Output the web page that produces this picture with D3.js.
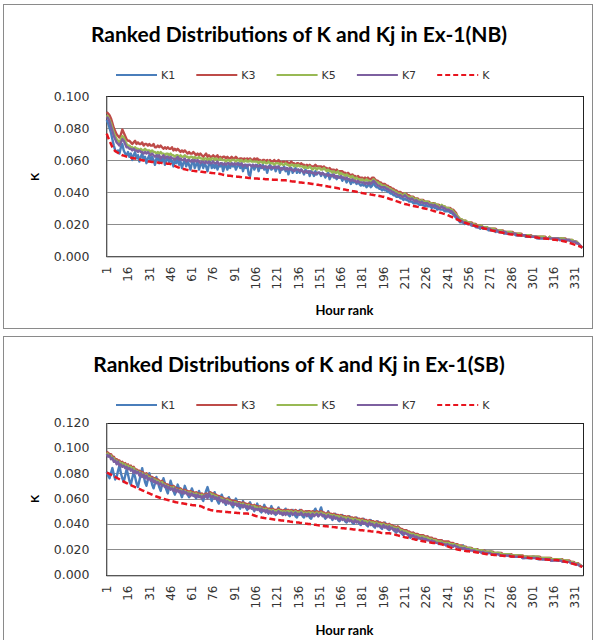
<!DOCTYPE html>
<html>
<head>
<meta charset="utf-8">
<script src="https://cdn.jsdelivr.net/npm/d3@7"></script>
<style>
  body { margin: 0; background: #fff; }
  svg { display: block; }
</style>
</head>
<body>
<svg id="chart" width="595" height="640"></svg>
<script>
// series values are in thousandths of K
var SERIES_NAMES = ['K1', 'K3', 'K5', 'K7', 'K']
var X_TICKS = [1, 16, 31, 46, 61, 76, 91, 106, 121, 136, 151, 166, 181, 196, 211, 226, 241, 256, 271, 286, 301, 316, 331]
var Y_TICKS_NB = [0, 0.02, 0.04, 0.06, 0.08, 0.1]
var Y_TICKS_SB = [0, 0.02, 0.04, 0.06, 0.08, 0.1, 0.12]

var NB_K1 = [
  85,83,80,77,73,69,66,65,66,64,68,70,66,64,63,
  65,62,64,60,63,65,61,63,59,62,64,60,62,58,61,
  63,59,62,60,57,61,63,58,61,59,62,57,60,62,58,
  61,59,56,60,58,61,57,59,55,58,60,56,59,57,54,
  58,60,55,57,59,54,57,58,55,58,56,53,57,59,55,
  57,55,58,54,57,56,58,53,56,57,54,57,55,58,56,
  57,54,56,58,55,57,53,56,55,57,51,50,55,57,54,
  56,57,53,56,55,57,54,56,52,55,57,54,55,56,53,
  55,56,52,55,54,56,53,55,51,54,55,52,54,55,52,
  54,52,54,53,51,54,52,53,50,53,52,50,53,51,52,
  52,50,52,51,49,51,52,48,50,51,49,50,48,50,49,
  49,47,49,48,46,48,47,45,47,46,47,45,46,45,44,
  45,44,45,43,44,45,43,44,46,44,43,43,42,42,41,
  42,41,41,40,40,39,39,38,38,37,37,37,36,36,35,
  36,35,35,34,34,34,33,33,33,33,32,32,32,32,31,
  32,31,31,31,30,31,30,30,29,30,29,29,29,28,28,
  28,28,27,27,26,25,24,23,22,21,21,21,20,21,20,
  20,20,19,19,19,18,18,18,17,18,17,17,17,17,16,
  16,16,16,16,15,16,15,15,15,15,14,14,14,14,14,
  14,14,14,13,13,13,13,13,13,13,12,12,12,12,12,
  12,12,12,11,11,11,11,11,11,11,11,11,11,11,11,
  11,11,11,11,10,11,10,10,10,10,10,10,9,9,9,
  9,8,8,7,6,5
]
var NB_K3 = [
  90,89,88,86,83,80,78,76,75,74,76,79,77,75,73,
  72,72,71,70,71,72,70,71,70,70,71,69,70,70,69,
  70,69,69,70,68,68,69,68,69,68,67,68,67,68,67,
  67,68,66,67,66,67,66,65,66,65,66,65,64,65,64,
  64,65,64,63,64,63,64,63,62,63,64,62,63,62,62,
  63,62,62,63,61,62,61,62,62,61,62,61,61,62,61,
  61,62,61,60,61,61,60,61,60,61,60,61,60,60,61,
  60,61,60,60,59,60,60,59,60,59,60,59,59,60,59,
  59,60,59,58,59,59,58,59,58,58,59,58,58,57,58,
  58,57,58,57,57,56,57,56,57,56,56,56,57,56,56,
  56,56,55,56,55,55,54,55,54,54,54,53,54,53,53,
  53,53,52,52,51,52,51,50,51,50,50,49,50,49,49,
  49,48,49,48,49,48,48,49,49,48,47,47,46,46,45,
  45,45,44,44,43,43,42,42,41,41,40,40,40,39,39,
  39,39,38,38,37,37,37,36,36,36,35,35,35,35,34,
  34,34,34,33,33,33,33,32,32,32,31,31,31,31,30,
  30,30,30,29,29,28,27,25,24,23,23,22,22,22,21,
  21,21,21,20,20,20,19,19,19,19,18,18,18,18,17,
  17,17,17,17,17,16,16,16,16,16,15,15,15,15,15,
  15,15,14,14,14,14,14,14,13,13,13,13,13,13,13,
  12,12,12,12,12,12,12,12,12,12,11,11,12,11,11,
  11,11,11,11,11,11,11,11,11,10,10,10,10,10,9,
  9,9,8,7,6,5
]
var NB_K5 = [
  88,87,85,83,80,77,75,73,72,71,73,75,74,72,70,
  69,69,68,68,67,68,67,67,66,67,66,66,67,66,66,
  66,65,66,65,65,64,65,64,65,64,64,63,64,64,63,
  64,63,63,62,63,63,62,63,62,62,63,62,62,61,62,
  62,61,62,61,61,62,61,61,60,61,61,60,61,60,61,
  61,60,61,60,60,61,60,60,60,59,60,60,59,60,60,
  60,59,60,60,59,60,59,59,60,59,59,60,59,59,59,
  59,59,58,59,59,58,59,58,58,59,58,58,58,57,58,
  58,58,57,58,57,57,58,57,57,56,57,57,56,57,56,
  57,56,56,56,55,56,55,55,56,55,54,55,55,54,55,
  55,54,54,55,54,53,54,53,53,52,53,52,52,53,51,
  52,51,51,50,51,50,50,49,50,49,48,49,48,48,47,
  48,47,47,48,47,47,46,47,48,47,46,46,45,45,44,
  44,44,43,43,42,42,41,41,40,40,39,39,39,38,38,
  39,38,37,37,36,37,36,35,36,35,35,34,35,34,34,
  34,34,33,33,33,32,33,32,32,31,31,32,31,31,30,
  30,30,29,29,28,27,26,25,24,23,23,22,22,22,21,
  21,21,20,20,20,19,19,19,18,19,18,18,18,18,17,
  17,17,17,17,16,16,16,16,16,15,15,15,15,15,15,
  15,14,14,14,14,14,14,13,13,13,13,13,13,13,12,
  12,12,12,12,12,12,12,12,12,11,11,11,12,11,11,
  11,11,11,11,11,11,11,11,10,10,10,10,10,10,9,
  9,9,8,7,6,5
]
var NB_K7 = [
  87,86,84,81,78,75,73,71,70,69,71,73,72,70,68,
  68,67,67,66,67,66,66,65,66,65,65,64,65,64,65,
  64,63,64,63,62,63,62,63,61,62,63,61,62,62,61,
  62,61,61,60,61,62,60,61,60,60,61,59,60,60,59,
  60,59,60,59,60,59,58,59,59,58,59,58,59,58,58,
  59,58,58,59,57,58,58,57,58,57,58,58,57,58,57,
  58,57,58,57,57,58,56,57,57,56,57,57,56,57,56,
  57,56,56,57,56,55,56,56,55,56,55,56,55,55,56,
  55,56,55,54,55,55,54,55,54,55,54,54,53,54,54,
  54,53,54,53,52,53,53,52,53,52,52,52,51,52,52,
  52,51,52,51,51,51,50,51,50,50,51,49,50,49,49,
  50,49,49,48,49,48,48,47,48,47,47,46,47,46,46,
  46,46,45,46,45,46,45,46,47,46,45,44,44,43,43,
  43,43,42,42,41,41,40,40,39,39,38,38,38,37,37,
  38,37,36,36,35,36,35,34,35,34,34,33,34,33,33,
  33,33,32,32,32,31,32,31,31,30,30,31,30,30,29,
  29,29,28,28,27,26,25,24,23,22,22,21,21,21,20,
  20,20,20,19,19,19,18,18,18,18,18,17,17,17,17,
  17,16,16,16,16,16,15,15,15,15,15,15,14,14,14,
  14,14,14,14,13,13,13,13,13,13,13,12,12,12,12,
  12,12,12,12,11,11,11,11,11,11,11,11,11,11,11,
  11,11,11,11,10,10,10,10,10,10,10,10,9,9,9,
  9,8,8,7,6,5
]
var NB_K = [
  76.5,74,72,70,68,66.5,65.5,65,64.5,64,63.5,63,62.7,62.4,62.1,
  61.9,61.7,61.5,61.3,61.1,60.9,60.7,60.5,60.3,60.1,59.9,59.7,59.5,59.3,59.1,
  59,58.9,58.8,58.7,58.6,58.5,58.4,58.3,58.2,58.1,58,57.9,57.8,57.7,57.6,
  57.5,57.1,56.7,56.3,55.9,55.5,55.2,54.9,54.6,54.4,54.2,54,53.8,53.6,53.4,
  53.3,53.2,53.1,53,52.9,52.8,52.7,52.6,52.5,52.4,52.3,52.2,52.1,52,51.9,
  51.8,51.7,51.6,51.5,51.4,51.2,51,50.8,50.6,50.4,50.3,50.2,50.1,50,49.9,
  49.8,49.7,49.6,49.5,49.4,49.3,49.2,49.1,49,48.9,48.8,48.7,48.6,48.5,48.5,
  48.4,48.4,48.3,48.3,48.2,48.2,48.1,48,48,47.9,47.9,47.8,47.7,47.7,47.6,
  47.6,47.5,47.5,47.4,47.4,47.3,47.3,47.2,47,46.9,46.7,46.6,46.5,46.4,46.2,
  46.1,46,45.9,45.8,45.7,45.6,45.5,45.4,45.3,45.2,45,44.9,44.8,44.6,44.5,
  44.3,44.2,44,43.9,43.7,43.6,43.4,43.3,43.1,43,42.8,42.7,42.5,42.3,42.1,
  42,41.8,41.6,41.5,41.3,41.1,41,40.8,40.6,40.5,40.3,40.1,39.9,39.7,39.5,
  39.3,39.2,39,38.9,38.7,38.6,38.4,38.3,38.1,38,37.8,37.7,37.5,37.3,37.1,
  37,36.7,36.4,36.1,35.8,35.5,35.2,34.9,34.6,34.3,34,33.7,33.4,33.1,32.8,
  32.5,32.3,32.1,31.9,31.7,31.5,31.3,31.1,30.9,30.7,30.5,30.3,30.1,29.9,29.7,
  29.5,29.3,29,28.8,28.5,28.3,28,27.8,27.5,27.3,27,26.8,26.5,26.3,26,
  25.6,25.2,24.8,24.4,24,23.6,23.2,22.8,22.4,22,21.6,21.2,20.9,20.6,20.3,
  20,19.7,19.5,19.2,19,18.7,18.5,18.2,18,17.7,17.5,17.2,17,16.7,16.5,
  16.2,16,15.8,15.6,15.4,15.2,15,14.9,14.7,14.5,14.3,14.1,14,13.8,13.6,
  13.5,13.4,13.3,13.2,13.1,13,12.9,12.8,12.7,12.6,12.5,12.3,12.2,12,11.9,
  11.8,11.7,11.6,11.5,11.4,11.3,11.2,11.1,11,10.9,10.8,10.7,10.6,10.5,10.3,
  10.2,10.1,10,9.9,9.8,9.6,9.4,9.2,9,8.8,8.5,8.2,7.9,7.6,7.3,
  7,6.7,6.4,6.1,5.8,5.5
]

var SB_K1 = [
  81,78,76,80,84,79,75,77,82,86,80,76,73,78,83,
  79,74,71,76,81,77,72,69,74,79,84,78,73,70,75,
  80,76,71,68,72,77,73,69,66,71,76,72,67,64,69,
  74,70,66,63,67,71,68,64,61,65,70,67,63,61,64,
  68,65,62,60,63,66,63,60,58,62,66,69,65,61,58,
  62,65,61,58,56,60,63,60,57,55,58,61,58,55,53,
  57,60,57,54,52,55,58,55,53,51,54,57,54,52,50,
  53,56,53,51,49,52,55,52,50,48,51,54,51,49,47,
  50,53,50,48,47,50,52,49,47,46,49,51,48,46,45,
  48,51,48,46,45,48,50,47,45,44,47,50,52,49,46,
  50,53,49,46,44,47,50,47,45,43,46,48,45,43,42,
  45,47,44,42,41,44,46,43,41,40,43,45,42,40,39,
  42,44,41,39,38,41,43,40,38,37,40,42,39,37,36,
  39,41,38,36,35,37,39,36,34,33,35,37,34,32,31,
  33,35,32,30,29,31,33,30,28,28,30,31,29,27,27,
  28,30,28,26,26,27,28,26,25,24,26,27,25,24,23,
  24,25,24,23,22,23,24,22,21,21,22,23,21,20,20,
  21,21,20,19,19,20,20,19,18,18,19,19,18,17,17,
  18,18,17,16,16,17,17,16,15,15,16,16,15,15,15,
  15,15,14,14,14,15,15,14,13,13,14,14,13,13,13,
  14,14,13,13,12,13,13,12,12,12,12,12,12,11,11,
  12,12,11,11,11,11,11,10,10,10,10,10,9,9,9,
  9,8,8,7,7,6
]
var SB_K3 = [
  97,96,95,95,93,93,91,91,90,90,88,89,87,88,86,
  87,85,86,84,85,83,83,82,82,81,81,80,79,80,78,
  78,77,77,76,76,75,75,74,73,74,72,72,71,71,70,
  70,69,70,69,68,68,67,68,67,66,67,66,66,65,66,
  65,65,64,65,64,64,63,64,63,63,64,63,64,65,64,
  64,63,63,62,62,61,61,60,60,59,60,59,59,58,58,
  58,58,57,57,57,56,57,56,56,55,56,55,55,54,55,
  54,54,53,54,53,53,52,53,52,52,52,51,52,51,51,
  51,52,51,51,50,51,50,51,51,50,51,50,50,51,50,
  50,50,51,50,49,50,49,50,50,49,50,49,49,50,49,
  49,50,49,49,48,48,49,48,48,47,48,47,47,47,46,
  47,46,46,46,45,46,45,45,45,44,45,44,44,44,43,
  44,43,43,43,42,43,42,42,42,41,42,41,41,41,40,
  41,40,40,39,40,39,39,38,38,37,38,37,36,36,35,
  35,35,34,34,33,33,33,32,32,32,31,31,31,31,30,
  30,30,29,29,29,28,28,28,27,27,27,27,26,26,26,
  26,26,25,25,25,24,24,24,23,23,23,22,22,22,21,
  21,21,21,20,20,20,20,19,19,19,19,19,18,18,18,
  18,18,18,17,17,17,17,17,17,16,16,16,16,16,16,
  16,15,15,15,15,15,15,15,15,14,14,14,14,14,14,
  14,14,14,14,14,14,13,13,13,13,13,13,13,13,12,
  12,12,12,12,12,12,12,11,11,11,11,11,10,10,10,
  9,9,9,8,7,6
]
var SB_K5 = [
  96,95,93,94,91,92,89,90,88,89,87,88,86,87,85,
  86,84,85,83,84,82,82,81,81,80,80,79,78,79,77,
  77,76,76,75,75,74,74,73,72,73,71,71,70,70,69,
  69,68,69,68,67,67,66,67,66,65,66,65,65,64,65,
  64,64,63,64,63,63,62,63,62,62,63,62,63,64,63,
  63,62,62,61,61,60,60,59,59,58,59,58,58,57,57,
  57,57,56,56,56,55,56,55,55,54,55,54,54,53,54,
  53,53,52,53,52,52,51,52,51,51,51,50,51,50,50,
  50,51,50,50,49,50,49,50,50,49,50,49,49,50,49,
  49,49,50,49,48,49,48,49,49,48,49,48,48,49,48,
  48,49,48,48,47,47,48,47,47,46,47,46,46,46,45,
  46,45,45,45,44,45,44,44,44,43,44,43,43,43,42,
  43,42,42,42,41,42,41,41,41,40,41,40,40,40,39,
  40,39,39,38,39,38,38,37,37,36,37,36,35,35,34,
  34,34,33,33,32,32,32,31,31,31,30,30,30,30,29,
  29,29,28,28,28,27,27,27,26,26,26,26,25,25,25,
  25,25,24,24,24,24,23,23,23,22,22,22,22,21,21,
  21,21,20,20,20,20,19,19,19,19,19,18,18,18,18,
  18,18,17,17,17,17,17,17,16,16,16,16,16,16,16,
  15,15,15,15,15,15,15,15,14,14,14,14,14,14,14,
  14,14,14,14,14,13,13,13,13,13,13,13,13,12,12,
  12,12,12,12,12,12,11,11,11,11,11,10,10,10,9,
  9,9,8,8,7,6
]
var SB_K7 = [
  95,93,94,91,92,89,90,87,89,86,87,85,86,84,85,
  83,84,82,83,80,82,80,81,78,80,77,79,76,78,75,
  76,74,76,73,74,72,73,71,72,70,71,69,70,68,69,
  67,68,66,68,65,67,65,66,64,66,64,65,63,64,62,
  64,62,63,61,63,61,62,60,62,61,63,60,64,62,61,
  62,60,61,59,61,58,59,57,59,56,58,56,57,55,57,
  55,56,54,56,54,55,53,55,53,54,52,54,52,53,51,
  52,51,52,50,52,50,51,49,51,49,50,48,50,48,49,
  48,50,48,49,47,49,47,49,48,48,49,47,48,49,47,
  48,47,49,47,47,48,46,48,47,46,48,46,47,48,46,
  47,48,46,47,46,45,47,45,46,44,46,44,45,44,43,
  45,43,44,43,42,44,42,43,42,41,43,41,42,41,40,
  42,40,41,40,39,41,39,40,39,38,40,38,39,38,37,
  39,37,38,36,38,36,37,35,36,34,36,34,33,34,32,
  33,32,32,31,31,30,31,29,30,29,29,28,29,28,28,
  28,27,27,26,27,26,26,25,25,25,24,25,24,24,23,
  24,23,23,23,22,23,22,22,21,21,21,20,21,20,20,
  20,19,19,19,19,18,18,18,18,17,18,17,17,17,17,
  17,16,16,16,16,16,16,15,15,15,15,15,15,15,15,
  14,14,14,14,14,14,14,14,13,13,13,13,13,13,13,
  13,13,13,13,13,12,12,12,12,12,12,12,12,11,11,
  11,11,11,11,11,11,10,10,10,10,10,10,9,9,9,
  8,8,8,7,7,6
]
var SB_K = [
  80.5,80,79.4,78.8,78.2,77.6,77,76.4,75.8,75.2,74.6,74,73.4,72.8,72.2,
  71.6,71,70.5,70,69.5,69,68.5,68,67.5,67,66.5,66,65.5,65,64.5,
  64,63.5,63,62.5,62,61.6,61.2,60.8,60.4,60,59.7,59.4,59.1,58.8,58.5,
  58.2,57.9,57.6,57.3,57,56.8,56.6,56.4,56.2,56,55.8,55.6,55.4,55.2,55,
  54.8,54.7,54.6,54.5,54.3,54.1,54,53.5,53,52.5,52,51.6,51.3,51,50.8,
  50.6,50.4,50.2,50,49.9,49.8,49.7,49.6,49.5,49.4,49.3,49.2,49.1,49,48.9,
  48.8,48.7,48.6,48.5,48.4,48.3,48.2,48.2,48.1,48.1,48,48,47.5,47,46.6,
  46.2,45.9,45.6,45.3,45,44.8,44.6,44.5,44.4,44.2,44,43.8,43.6,43.4,43.2,
  43.1,43,42.9,42.7,42.6,42.4,42.3,42.1,42,41.8,41.7,41.5,41.4,41.2,41.1,
  41,40.8,40.7,40.5,40.4,40.2,40.1,39.9,39.8,39.6,39.5,39.3,39.2,39,38.9,
  38.7,38.6,38.4,38.3,38.1,38,37.9,37.8,37.6,37.5,37.4,37.3,37.1,37,36.9,
  36.7,36.6,36.5,36.4,36.3,36.1,36,35.9,35.8,35.6,35.5,35.4,35.3,35.1,35,
  34.9,34.8,34.6,34.5,34.4,34.3,34.1,34,33.9,33.8,33.6,33.5,33.3,33,32.8,
  32.7,32.6,32.6,32.5,32.5,32.3,32.1,31.8,31.5,31.2,30.9,30.6,30.3,30,29.7,
  29.4,29.2,29,28.7,28.5,28.2,28,27.7,27.5,27.2,27,26.7,26.5,26.2,26,
  25.8,25.6,25.4,25.2,25,24.9,24.8,24.7,24.6,24.5,24.2,23.8,23.4,23,22.6,
  22.2,21.8,21.4,21,20.7,20.4,20.1,19.8,19.6,19.4,19.2,19,18.8,18.6,18.4,
  18.3,18.2,18.1,18,17.8,17.6,17.4,17.2,17,16.8,16.6,16.4,16.2,16,15.8,
  15.7,15.6,15.5,15.4,15.3,15.2,15.1,15,14.9,14.8,14.7,14.6,14.5,14.4,14.4,
  14.3,14.3,14.2,14.2,14.1,14.1,14,14,14,13.8,13.6,13.4,13.2,13,12.9,
  12.8,12.7,12.6,12.5,12.4,12.3,12.2,12.1,12,11.9,11.8,11.7,11.6,11.5,11.5,
  11.4,11.4,11.4,11.2,11,10.8,10.6,10.4,10.1,9.8,9.5,9.2,8.9,8.6,8.3,
  8,7.6,7.2,6.8,6.4,6
]

// constants
var COLORS = ['#4a7ebb', '#be4b48', '#98b954', '#7d60a0', '#e8141e']
var PLOT_LEFT = 106, PLOT_RIGHT = 583
var RANKS = NB_K.map(function (d, i) { return i + 1 })

var svg = d3.select('#chart')

function drawChart (cfg) {
  var g = svg.append('g')

  // outer frame
  g.append('rect')
    .attr('x', 3.5).attr('y', cfg.frameTop + 0.5)
    .attr('width', 589).attr('height', cfg.frameHeight)
    .attr('fill', '#fff').attr('stroke', '#8a8a8a')

  g.append('text')
    .attr('x', 299).attr('y', cfg.titleY)
    .attr('text-anchor', 'middle')
    .style('font', 'bold 21px Lato, sans-serif')
    .text(cfg.title)

  // legend
  var legend = g.selectAll('.legend').data(SERIES_NAMES).enter().append('g')
    .attr('transform', function (d, i) { return 'translate(' + (116 + i * 80.3) + ',' + cfg.legendY + ')' })
  legend.append('line')
    .attr('x1', 0).attr('x2', 41)
    .attr('stroke', function (d, i) { return COLORS[i] })
    .attr('stroke-width', 2.2)
    .attr('stroke-dasharray', function (d, i) { return i === 4 ? '5,3' : null })
  legend.append('text')
    .attr('x', 45).attr('dy', '0.35em')
    .style('font', '11px "DejaVu Sans", sans-serif')
    .attr('fill', '#333')
    .text(function (d) { return d })

  var x = d3.scaleBand().domain(RANKS).range([PLOT_LEFT, PLOT_RIGHT])
  var y = d3.scaleLinear().domain([0, cfg.yMax]).range([cfg.plotBottom, cfg.plotTop])

  // grid
  g.selectAll('.grid').data(cfg.yTicks).enter().append('line')
    .attr('x1', PLOT_LEFT).attr('x2', PLOT_RIGHT)
    .attr('y1', function (d) { return Math.round(y(d)) + 0.5 })
    .attr('y2', function (d) { return Math.round(y(d)) + 0.5 })
    .attr('stroke', '#8c8c8c')

  g.append('rect')
    .attr('x', PLOT_LEFT + 0.5).attr('y', Math.round(cfg.plotTop) + 0.5)
    .attr('width', PLOT_RIGHT - PLOT_LEFT)
    .attr('height', Math.round(cfg.plotBottom) - Math.round(cfg.plotTop))
    .attr('fill', 'none').attr('stroke', '#222')

  var yAxis = g.append('g')
    .attr('transform', 'translate(' + (PLOT_LEFT + 0.5) + ',0)')
    .call(d3.axisLeft(y).tickValues(cfg.yTicks).tickSize(0).tickSizeOuter(0)
      .tickPadding(17).tickFormat(d3.format('.3f')))
  yAxis.select('.domain').attr('stroke', '#8c8c8c')
  yAxis.selectAll('text').style('font', '12.5px "DejaVu Sans", sans-serif').attr('fill', '#333')

  var xAxis = g.append('g')
    .attr('transform', 'translate(0,' + (Math.round(cfg.plotBottom) + 0.5) + ')')
    .call(d3.axisBottom(x).tickValues(X_TICKS).tickSize(0).tickSizeOuter(0))
  xAxis.select('.domain').attr('stroke', '#8c8c8c')
  xAxis.selectAll('text')
    .attr('transform', 'rotate(-90)')
    .attr('x', -10).attr('y', 0).attr('dy', '0.35em')
    .style('text-anchor', 'end')
    .style('font', '12px "DejaVu Sans", sans-serif')
    .attr('fill', '#333')

  g.append('text')
    .attr('x', (PLOT_LEFT + PLOT_RIGHT) / 2).attr('y', cfg.xTitleY)
    .attr('text-anchor', 'middle')
    .style('font', 'bold 13px Lato, sans-serif')
    .text('Hour rank')

  g.append('text')
    .attr('transform', 'translate(39,' + cfg.yTitleY + ') rotate(-90)')
    .attr('text-anchor', 'middle')
    .style('font', 'bold 12px Lato, sans-serif')
    .text('K')

  var line = d3.line()
    .x(function (d, i) { return x(RANKS[i]) + x.bandwidth() / 2 })
    .y(function (d) { return y(d / 1000) })

  cfg.series.forEach(function (values, i) {
    g.append('path')
      .datum(values)
      .attr('fill', 'none')
      .attr('stroke', COLORS[i])
      .attr('stroke-width', i === 4 ? 2.5 : 2.4)
      .attr('stroke-linejoin', 'round')
      .attr('stroke-dasharray', i === 4 ? '6,3' : null)
      .attr('d', line)
  })
}

drawChart({
  frameTop: 4, frameHeight: 324,
  title: 'Ranked Distributions of K and Kj  in Ex-1(NB)',
  titleY: 42, legendY: 75,
  plotTop: 96, plotBottom: 256, yMax: 0.1, yTicks: Y_TICKS_NB,
  xTitleY: 315, yTitleY: 177,
  series: [NB_K1, NB_K3, NB_K5, NB_K7, NB_K]
})

drawChart({
  frameTop: 336, frameHeight: 320,
  title: 'Ranked Distributions of K and Kj in Ex-1(SB)',
  titleY: 372, legendY: 405,
  plotTop: 422.5, plotBottom: 574.5, yMax: 0.12, yTicks: Y_TICKS_SB,
  xTitleY: 635, yTitleY: 499,
  series: [SB_K1, SB_K3, SB_K5, SB_K7, SB_K]
})
</script>
</body>
</html>
